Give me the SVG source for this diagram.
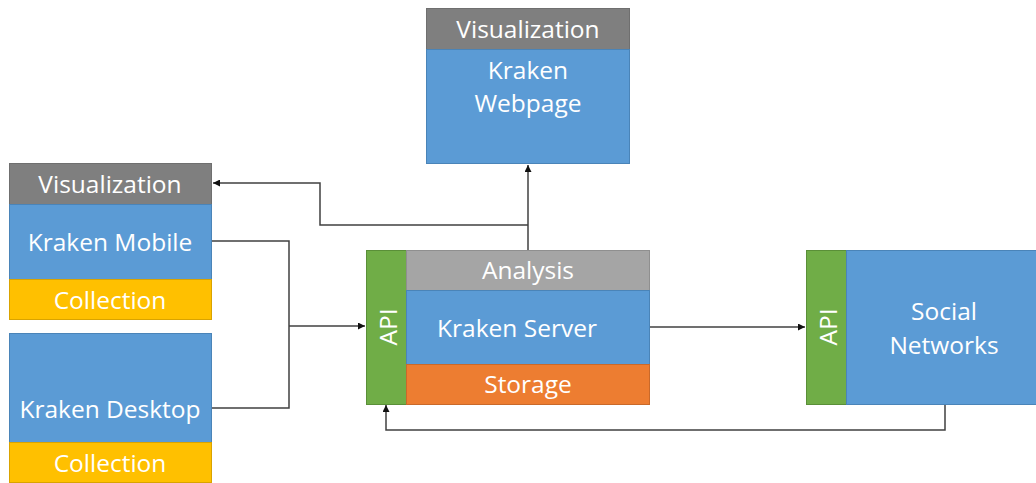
<svg xmlns="http://www.w3.org/2000/svg" width="1036" height="483" viewBox="0 0 1036 483">
  <style>
    .lbl { font-family: "Open Sans", "Noto Sans", "Liberation Sans", sans-serif; font-size: 24.5px; fill: #ffffff; text-anchor: middle; dominant-baseline: central; }
    .head { fill: #7f7f7f; stroke: #6f6f6f; stroke-width: 1; }
    .body { fill: #5b9bd5; stroke: #4a84b8; stroke-width: 1; }
    .coll { fill: #ffc000; stroke: #d9a300; stroke-width: 1; }
    .api { fill: #70ad47; stroke: #5a8f38; stroke-width: 1; }
    .ana { fill: #a5a5a5; stroke: #8f8f8f; stroke-width: 1; }
    .stor { fill: #ed7d31; stroke: #c9692a; stroke-width: 1; }
    .wire { fill: none; stroke: #404040; stroke-width: 1.5; }
    .wire.arrow { marker-end: url(#tip); }
  </style>
  <defs>
    <marker id="tip" viewBox="0 0 10 10" refX="10" refY="5" markerWidth="7" markerHeight="7" markerUnits="userSpaceOnUse" orient="auto">
      <path d="M0,0 L10,5 L0,10 z" fill="#111111"/>
    </marker>
  </defs>
  <rect width="1036" height="483" fill="#ffffff"/>

  <!-- Connectors -->
  <g id="connectors">
    <path class="wire arrow" d="M528,250 V165"/>
    <path class="wire arrow" d="M528,225 H320 V183 H213"/>
    <path class="wire" d="M212,241 H289 V408 H212"/>
    <path class="wire arrow" d="M289,326 H365"/>
    <path class="wire arrow" d="M650,327 H805"/>
    <path class="wire arrow" d="M945,404 V430 H386 V405"/>
  </g>

  <!-- Web front end -->
  <g id="webpage">
    <rect class="head" x="426.5" y="8.5" width="203" height="41"/>
    <rect class="body" x="426.5" y="49.5" width="203" height="114"/>
    <text class="lbl" x="528" y="28">Visualization</text>
    <text class="lbl" x="528" y="69">Kraken</text>
    <text class="lbl" x="528" y="102">Webpage</text>
  </g>

  <!-- Mobile client -->
  <g id="mobile">
    <rect class="head" x="9.5" y="163.5" width="202" height="41"/>
    <rect class="body" x="9.5" y="204.5" width="202" height="75"/>
    <rect class="coll" x="9.5" y="279.5" width="202" height="40"/>
    <text class="lbl" x="110" y="183">Visualization</text>
    <text class="lbl" x="110" y="241">Kraken Mobile</text>
    <text class="lbl" x="110" y="299">Collection</text>
  </g>

  <!-- Desktop client -->
  <g id="desktop">
    <rect class="body" x="9.5" y="333.5" width="202" height="109"/>
    <rect class="coll" x="9.5" y="442.5" width="202" height="40"/>
    <text class="lbl" x="110" y="408">Kraken Desktop</text>
    <text class="lbl" x="110" y="462">Collection</text>
  </g>

  <!-- Server -->
  <g id="server">
    <rect class="api" x="366.5" y="250.5" width="40" height="154"/>
    <rect class="ana" x="406.5" y="250.5" width="243" height="40"/>
    <rect class="body" x="406.5" y="290.5" width="243" height="74"/>
    <rect class="stor" x="406.5" y="364.5" width="243" height="40"/>
    <text class="lbl" transform="translate(387,327) rotate(-90)">API</text>
    <text class="lbl" x="528" y="269">Analysis</text>
    <text class="lbl" x="517" y="327">Kraken Server</text>
    <text class="lbl" x="528" y="383">Storage</text>
  </g>

  <!-- Social networks -->
  <g id="social">
    <rect class="api" x="806.5" y="250.5" width="40" height="154"/>
    <rect class="body" x="846.5" y="250.5" width="192" height="154"/>
    <text class="lbl" transform="translate(827,327) rotate(-90)">API</text>
    <text class="lbl" x="944" y="310">Social</text>
    <text class="lbl" x="944" y="344">Networks</text>
  </g>
</svg>
